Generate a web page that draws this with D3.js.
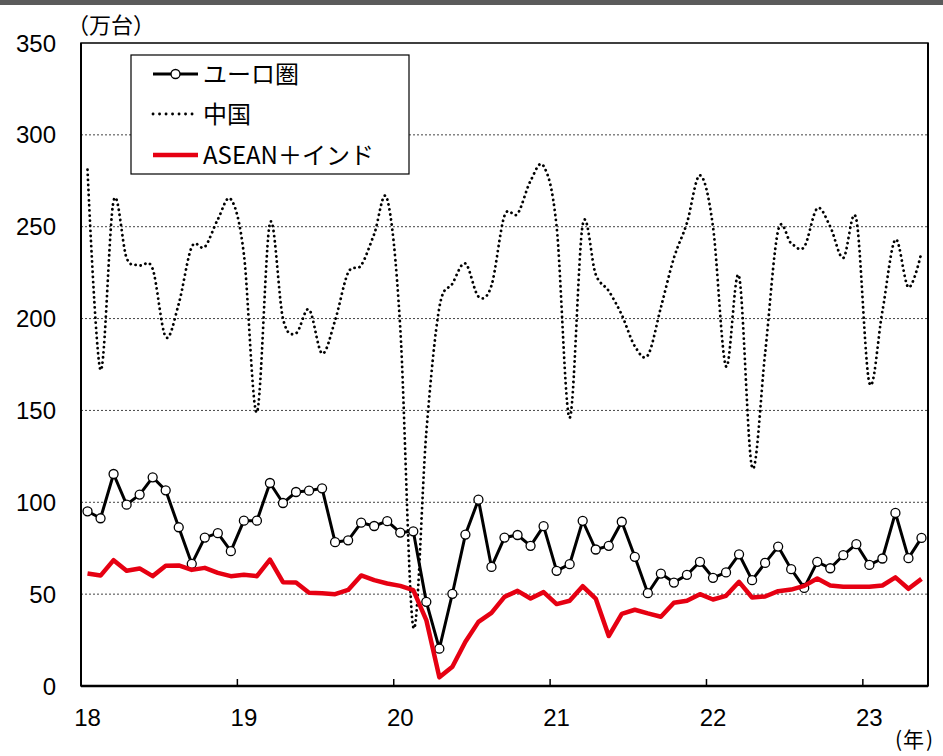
<!DOCTYPE html>
<html>
<head>
<meta charset="utf-8">
<script src="https://cdn.jsdelivr.net/npm/d3@7"></script>
<style>
  html, body { margin: 0; padding: 0; background: #fff; }
  svg { display: block; }
</style>
</head>
<body>
<div id="chart"></div>
<script>
// Monthly sales, Jan 2018 – May 2023 (unit: 10,000 vehicles)
const years = ["18", "19", "20", "21", "22", "23"];
const months = ["1", "2", "3", "4", "5", "6", "7", "8", "9", "10", "11", "12"];
const categories = [];
years.forEach(y => months.forEach(m => categories.push(y + "/" + m)));
categories.splice(65); // through 23/5

const euroArea = [
  95.1, 91.3, 115.4, 98.7, 104.2, 113.6, 106.5, 86.4, 66.5, 80.8, 83.2, 73.4,
  90.0, 90.0, 110.5, 99.6, 105.6, 106.3, 107.6, 78.3, 79.3, 88.9, 87.1, 89.7,
  83.5, 84.2, 45.8, 20.3, 50.2, 82.4, 101.4, 64.8, 80.8, 82.2, 76.3, 87.0,
  62.7, 66.3, 89.9, 74.3, 76.3, 89.4, 70.3, 50.5, 61.2, 56.3, 60.5, 67.6,
  58.9, 61.8, 71.7, 57.6, 67.0, 75.9, 63.6, 53.4, 67.6, 64.1, 71.2, 77.2,
  65.9, 69.4, 94.2, 69.6, 80.6
];

const china = [
  281, 172, 264, 233, 229, 227, 190, 208, 239, 239, 254, 265,
  235, 149, 252, 200, 192, 205, 181, 199, 225, 229, 246, 265,
  195, 32, 138, 206, 219, 230, 212, 218, 256, 257, 275, 283,
  250, 146, 251, 224, 215, 202, 185, 180, 206, 233, 252, 278,
  250, 174, 223, 119, 181, 248, 241, 239, 260, 250, 233, 254,
  165, 204, 243, 217, 236
];

const aseanIndia = [
  61.2, 60.1, 68.5, 62.7, 64.0, 59.8, 65.4, 65.6, 63.2, 64.3, 61.6, 59.8,
  60.5, 59.8, 68.8, 56.5, 56.3, 50.7, 50.5, 50.0, 52.3, 60.2, 57.6, 55.8,
  54.5, 52.2, 35.9, 4.7, 10.5, 24.1, 34.9, 39.8, 48.5, 51.8, 47.6, 51.1,
  44.6, 46.4, 54.3, 47.6, 27.2, 39.3, 41.5, 39.5, 37.7, 45.3, 46.4, 50.0,
  47.1, 49.1, 56.7, 48.2, 48.7, 51.6, 52.5, 54.5, 58.5, 54.7, 54.0, 54.0,
  54.0, 54.7, 59.1, 52.9, 58.3
];

const yTicks = [0, 50, 100, 150, 200, 250, 300, 350];
const seriesNames = ["ユーロ圏", "中国", "ASEAN＋インド"];
const yUnit = "（万台）";
const xUnitParts = ["(", "年", ")"];

const W = 943, H = 756;
const margin = { top: 43, right: 15, bottom: 70, left: 81 };
const plotW = W - margin.left - margin.right;
const plotH = H - margin.top - margin.bottom;

const latin = "'Liberation Sans', Arial, sans-serif";
const cjk = "'Noto Sans CJK JP', 'Liberation Sans', sans-serif";

const svg = d3.select("#chart").append("svg")
  .attr("width", W).attr("height", H);

// dark band along the top edge
svg.append("rect").attr("x", 0).attr("y", 0).attr("width", W).attr("height", 5)
  .attr("fill", "#5b5b5b");

const g = svg.append("g").attr("transform", `translate(${margin.left},${margin.top})`);

const x = d3.scaleBand().domain(d3.range(categories.length)).range([0, plotW]).padding(0);
const cx = i => x(i) + x.bandwidth() / 2;
const y = d3.scaleLinear().domain([0, 350]).range([plotH, 0]);

// horizontal dotted gridlines
g.append("g").selectAll("line")
  .data(yTicks.filter(v => v > 0 && v < 350))
  .join("line")
  .attr("x1", 0).attr("x2", plotW)
  .attr("y1", d => y(d)).attr("y2", d => y(d))
  .attr("stroke", "#444").attr("stroke-width", 1)
  .attr("stroke-dasharray", "2 2");

// y tick labels
svg.append("g").selectAll("text")
  .data(yTicks)
  .join("text")
  .attr("x", 56)
  .attr("y", d => margin.top + y(d))
  .attr("dy", "0.36em")
  .attr("text-anchor", "end")
  .attr("font-family", latin).attr("font-size", 24)
  .attr("fill", "#000")
  .text(d => d);

// plot frame
g.append("rect").attr("x", 0).attr("y", 0).attr("width", plotW).attr("height", plotH)
  .attr("fill", "none").attr("stroke", "#000").attr("stroke-width", 1.5);
g.append("line").attr("x1", 0).attr("x2", plotW).attr("y1", plotH).attr("y2", plotH)
  .attr("stroke", "#000").attr("stroke-width", 2.5);
g.append("line").attr("x1", 0).attr("x2", 0).attr("y1", 0).attr("y2", plotH)
  .attr("stroke", "#000").attr("stroke-width", 2);
g.append("line").attr("x1", plotW).attr("x2", plotW).attr("y1", 0).attr("y2", plotH)
  .attr("stroke", "#000").attr("stroke-width", 2);

// year boundary ticks (inside) and year labels
const yearStarts = years.map((yr, k) => k * 12);
g.append("g").selectAll("line")
  .data(yearStarts.filter(i => i > 0))
  .join("line")
  .attr("x1", i => x(i)).attr("x2", i => x(i))
  .attr("y1", plotH).attr("y2", plotH - 7)
  .attr("stroke", "#000").attr("stroke-width", 1.5);

g.append("g").selectAll("text")
  .data(years)
  .join("text")
  .attr("x", (d, k) => cx(k * 12))
  .attr("y", plotH + 40)
  .attr("text-anchor", "middle")
  .attr("font-family", latin).attr("font-size", 24)
  .attr("fill", "#000")
  .text(d => d);

// unit labels
svg.append("text").attr("x", 67).attr("y", 25).attr("dy", "0.36em")
  .attr("font-family", cjk).attr("font-size", 22).attr("fill", "#000")
  .text(yUnit);
const xu = svg.append("text").attr("y", 739).attr("dy", "0.36em")
  .attr("font-family", cjk).attr("font-size", 21).attr("fill", "#000");
xu.selectAll("tspan").data(xUnitParts).join("tspan")
  .attr("x", (d, i) => [895, 903, 926][i])
  .text(d => d);

// series
const straight = d3.line().x((d, i) => cx(i)).y(d => y(d));
const smooth = d3.line().x((d, i) => cx(i)).y(d => y(d)).curve(d3.curveCatmullRom.alpha(0));

g.append("path").datum(euroArea)
  .attr("d", straight)
  .attr("fill", "none").attr("stroke", "#000").attr("stroke-width", 3)
  .attr("stroke-linejoin", "round");
g.append("g").selectAll("circle")
  .data(euroArea)
  .join("circle")
  .attr("cx", (d, i) => cx(i)).attr("cy", d => y(d))
  .attr("r", 4.5)
  .attr("fill", "#fff").attr("stroke", "#000").attr("stroke-width", 1.3);

g.append("path").datum(china)
  .attr("d", smooth)
  .attr("fill", "none").attr("stroke", "#000").attr("stroke-width", 2.8)
  .attr("stroke-linecap", "round")
  .attr("stroke-dasharray", "0.1 5");

g.append("path").datum(aseanIndia)
  .attr("d", straight)
  .attr("fill", "none").attr("stroke", "#e60012").attr("stroke-width", 4.5)
  .attr("stroke-linejoin", "round");

// legend
const lg = svg.append("g");
lg.append("rect").attr("x", 131).attr("y", 55).attr("width", 278).attr("height", 119)
  .attr("fill", "#fff").attr("stroke", "#000").attr("stroke-width", 1.2);
const rowsY = [74, 114, 155];
const sx0 = 153, sx1 = 198;

lg.append("line").attr("x1", sx0).attr("x2", sx1).attr("y1", rowsY[0]).attr("y2", rowsY[0])
  .attr("stroke", "#000").attr("stroke-width", 3);
lg.append("circle").attr("cx", (sx0 + sx1) / 2).attr("cy", rowsY[0]).attr("r", 4.5)
  .attr("fill", "#fff").attr("stroke", "#000").attr("stroke-width", 1.3);
lg.append("line").attr("x1", sx0).attr("x2", sx1).attr("y1", rowsY[1]).attr("y2", rowsY[1])
  .attr("stroke", "#000").attr("stroke-width", 2.8).attr("stroke-linecap", "round")
  .attr("stroke-dasharray", "0.1 6.4");
lg.append("line").attr("x1", sx0).attr("x2", sx1).attr("y1", rowsY[2]).attr("y2", rowsY[2])
  .attr("stroke", "#e60012").attr("stroke-width", 4.5);

lg.selectAll("text.lab")
  .data(seriesNames)
  .join("text")
  .attr("class", "lab")
  .attr("x", 203)
  .attr("y", (d, i) => rowsY[i])
  .attr("dy", "0.36em")
  .attr("font-family", cjk).attr("font-size", 24).attr("fill", "#000")
  .text(d => d);
</script>
</body>
</html>
